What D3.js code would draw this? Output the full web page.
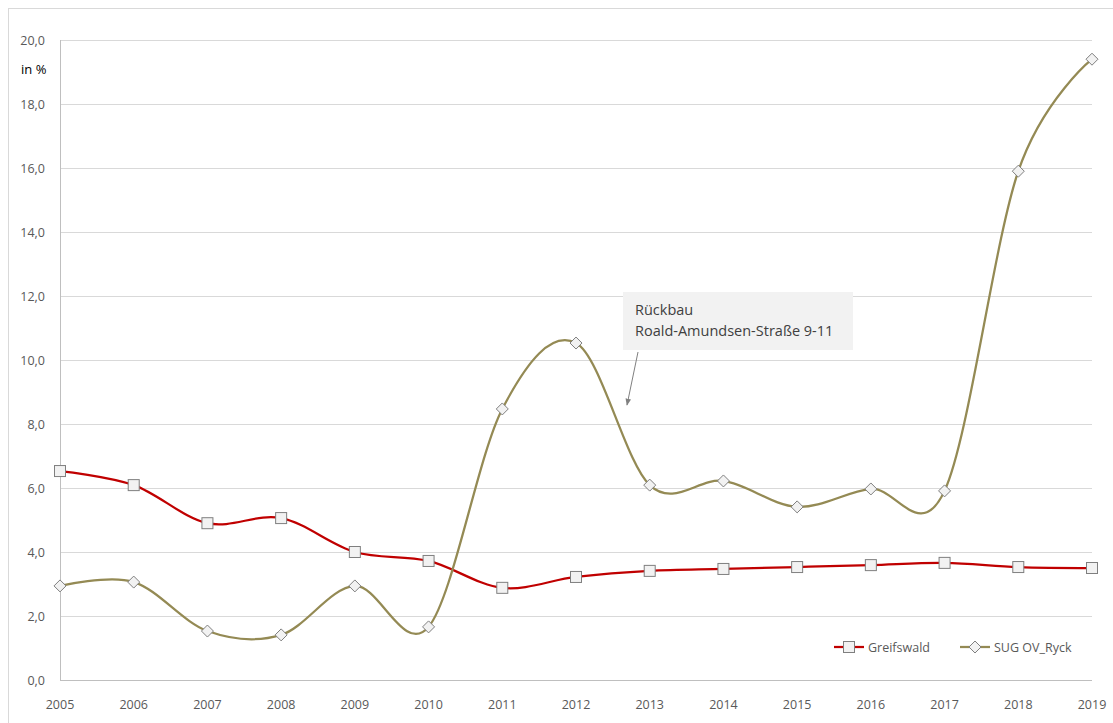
<!DOCTYPE html>
<html><head><meta charset="utf-8">
<script src="https://cdn.jsdelivr.net/npm/d3@7"></script>
<style>body{margin:0;background:#fff}svg{display:block}</style>
</head><body>
<svg id="c" width="1113" height="723"></svg>
<script>
const years = [2005,2006,2007,2008,2009,2010,2011,2012,2013,2014,2015,2016,2017,2018,2019];
const greifswald = [6.53,6.09,4.90,5.06,4.00,3.72,2.88,3.22,3.41,3.47,3.53,3.59,3.66,3.53,3.50];
const sugRyck = [2.94,3.06,1.53,1.41,2.94,1.66,8.47,10.53,6.09,6.22,5.41,5.97,5.91,15.90,19.40];
const yTicks = [0,2,4,6,8,10,12,14,16,18,20];
const seriesNames = ["Greifswald","SUG OV_Ryck"];
const annotationLines = ["Rückbau","Roald-Amundsen-Straße 9-11"];

const svg = d3.select("#c");
const font = "'Open Sans', 'Noto Sans', sans-serif";
svg.append("rect").attr("x",8.5).attr("y",8.5).attr("width",1110).attr("height",720)
  .attr("fill","#fff").attr("stroke","#d9d9d9");

const x = d3.scalePoint().domain(years).range([60,1092]);
const y = d3.scaleLinear().domain([0,20]).range([680,40]);

// grid
svg.append("g").selectAll("line").data(yTicks.filter(d=>d>0)).join("line")
  .attr("x1",60).attr("x2",1092).attr("y1",d=>y(d)+0.5).attr("y2",d=>y(d)+0.5)
  .attr("stroke","#d9d9d9").attr("stroke-width",1);
// axes lines
svg.append("line").attr("x1",60.5).attr("x2",60.5).attr("y1",40).attr("y2",680).attr("stroke","#bfbfbf");
svg.append("line").attr("x1",60).attr("x2",1092).attr("y1",680.5).attr("y2",680.5).attr("stroke","#bfbfbf");

const fmt = d => d3.format(".1f")(d).replace(".",",");
svg.append("g").selectAll("text").data(yTicks).join("text")
  .attr("x",45).attr("y",d=>y(d)+5).attr("text-anchor","end")
  .attr("font-family",font).attr("font-size",12.5).attr("fill","#595959").text(fmt);
svg.append("g").selectAll("text").data(years).join("text")
  .attr("x",d=>x(d)).attr("y",709).attr("text-anchor","middle")
  .attr("font-family",font).attr("font-size",12.5).attr("fill","#595959").text(d=>d);

svg.append("text").attr("x",21).attr("y",74).attr("font-family",font).attr("font-size",13)
  .attr("fill","#000").text("in %");

const line = d3.line().x((d,i)=>x(years[i])).y(d=>y(d)).curve(d3.curveCardinal.tension(0));

const colors = ["#c00000","#948a54"];
[greifswald, sugRyck].forEach((s,k)=>{
  svg.append("path").attr("d",line(s)).attr("fill","none").attr("stroke",colors[k]).attr("stroke-width",2.25);
});

function square(g,cx,cy){ g.append("rect").attr("x",cx-5.5).attr("y",cy-5.5).attr("width",11).attr("height",11)
  .attr("fill","#f2f2f2").attr("stroke","#7f7f7f").attr("stroke-width",1); }
function diamond(g,cx,cy){ g.append("path").attr("d",`M${cx},${cy-6}L${cx+6},${cy}L${cx},${cy+6}L${cx-6},${cy}Z`)
  .attr("fill","#f2f2f2").attr("stroke","#7f7f7f").attr("stroke-width",1); }

const mg = svg.append("g");
greifswald.forEach((v,i)=>square(mg,x(years[i]),y(v)));
sugRyck.forEach((v,i)=>diamond(mg,x(years[i]),y(v)));

// annotation
svg.append("rect").attr("x",623).attr("y",292).attr("width",230).attr("height",58).attr("fill","#f2f2f2");
svg.append("g").selectAll("text").data(annotationLines).join("text")
  .attr("x",635).attr("y",(d,i)=>315+i*21).attr("font-family",font).attr("font-size",14.5)
  .attr("fill","#404040").text(d=>d);
svg.append("defs").append("marker").attr("id","arr").attr("viewBox","0 0 10 10").attr("refX",9).attr("refY",5)
  .attr("markerWidth",7).attr("markerHeight",7).attr("orient","auto")
  .append("path").attr("d","M0,1L10,5L0,9Z").attr("fill","#808080");
svg.append("line").attr("x1",638).attr("y1",352).attr("x2",627).attr("y2",405)
  .attr("stroke","#808080").attr("stroke-width",1).attr("marker-end","url(#arr)");

// legend
const lg = svg.append("g");
lg.append("line").attr("x1",834).attr("x2",864).attr("y1",647).attr("y2",647).attr("stroke",colors[0]).attr("stroke-width",2.25);
square(lg,849,647);
lg.append("text").attr("x",868).attr("y",652).attr("font-family",font).attr("font-size",12.5).attr("fill","#595959").text(seriesNames[0]);
lg.append("line").attr("x1",960).attr("x2",990).attr("y1",647).attr("y2",647).attr("stroke",colors[1]).attr("stroke-width",2.25);
diamond(lg,975,647);
lg.append("text").attr("x",994).attr("y",652).attr("font-family",font).attr("font-size",12.5).attr("fill","#595959").text(seriesNames[1]);
</script>
</body></html>
